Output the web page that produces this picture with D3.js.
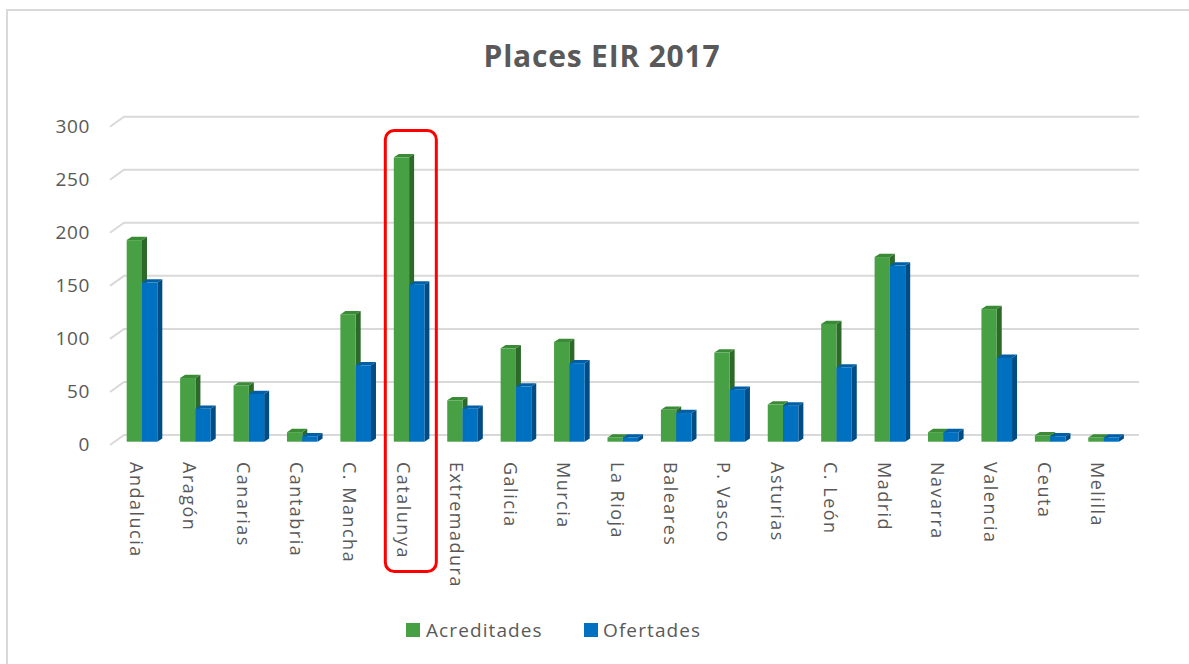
<!DOCTYPE html>
<html>
<head>
<meta charset="utf-8">
<script src="https://cdn.jsdelivr.net/npm/d3@7"></script>
<style>
  body { margin: 0; background: #fff; }
  svg text { font-family: "Open Sans", "DejaVu Sans", sans-serif; fill: #595959; }
</style>
</head>
<body>
<div class="graph"></div>
<script>
/*
    Data
*/
const categories = ["Andalucia", "Aragón", "Canarias", "Cantabria", "C. Mancha", "Catalunya",
    "Extremadura", "Galicia", "Murcia", "La Rioja", "Baleares", "P. Vasco", "Asturias",
    "C. León", "Madrid", "Navarra", "Valencia", "Ceuta", "Melilla"];
const acreditades = [190, 60, 53, 9, 120, 268, 39, 88, 94, 4, 30, 84, 35, 111, 174, 9, 125, 6, 4];
const ofertades = [150, 31, 45, 5, 72, 148, 31, 52, 74, 4, 27, 49, 34, 70, 166, 9, 79, 5, 4];
const y_ticks = [0, 50, 100, 150, 200, 250, 300];
const series_names = ["Acreditades", "Ofertades"];
const highlight = "Catalunya";

/*
    Configuration variables
*/
const svg_dimensions = { width: 1189, height: 664 };
const plot = { left: 110, right: 1125, depth_x: 14, depth_y: 10 };
const bar = { offset: 16.7, width: 15.3, side: 5, top: 3.3 };
const colors = [
    { front: "#47a043", side: "#2d6a2a", top: "#3a8a36" },
    { front: "#0070c0", side: "#004c85", top: "#005fa6" }
];

const container = d3.select(".graph").append("svg")
    .attr("width", svg_dimensions.width)
    .attr("height", svg_dimensions.height);

// chart border
container.append("rect")
    .attr("x", 7).attr("y", 10)
    .attr("width", 1250).attr("height", 700)
    .attr("fill", "none").attr("stroke", "#d9d9d9").attr("stroke-width", 2);

container.append("text")
    .attr("x", 602).attr("y", 55)
    .attr("text-anchor", "middle").attr("dominant-baseline", "central")
    .style("font-size", "30px").style("font-weight", "bold").style("letter-spacing", "0.8px")
    .text("Places EIR 2017");

/* Data scaling */
let xScale = d3.scaleBand()
    .domain(categories)
    .range([plot.left, plot.right]);

// back wall and bar fronts use slightly different scales (pseudo 3d)
let yBack = d3.scaleLinear().domain([0, 300]).range([435, 116.7]);
let yFront = d3.scaleLinear().domain([0, 300]).range([441.7, 123.4]);

/* Gridlines */
let grid = container.append("g");
y_ticks.forEach(t => {
    let yb = yBack(t);
    grid.append("polyline")
        .attr("points", [[plot.left, yb + plot.depth_y], [plot.left + plot.depth_x, yb], [plot.right + plot.depth_x, yb]].join(" "))
        .attr("fill", "none").attr("stroke", "#d9d9d9").attr("stroke-width", 2);
    grid.append("text")
        .attr("x", 90).attr("y", yb + plot.depth_y - 1)
        .attr("text-anchor", "end").attr("dominant-baseline", "central")
        .style("font-size", "19px").style("letter-spacing", "0.6px")
        .text(t);
});

/* Bars */
let bars = container.append("g");
[acreditades, ofertades].forEach((values, s) => {
    categories.forEach((c, i) => {
        let x = xScale(c) + bar.offset + s * bar.width;
        let y0 = yFront(0), y1 = yFront(values[i]);
        let g = bars.append("g");
        g.append("polygon")
            .attr("points", [[x + bar.width, y1], [x + bar.width + bar.side, y1 - bar.top],
                [x + bar.width + bar.side, y0 - bar.top], [x + bar.width, y0]].join(" "))
            .attr("fill", colors[s].side);
        g.append("polygon")
            .attr("points", [[x, y1], [x + bar.width, y1], [x + bar.width + bar.side, y1 - bar.top],
                [x + bar.side, y1 - bar.top]].join(" "))
            .attr("fill", colors[s].top);
        g.append("rect")
            .attr("x", x).attr("y", y1)
            .attr("width", bar.width).attr("height", y0 - y1)
            .attr("fill", colors[s].front);
    });
});

/* Category labels */
let labels = container.append("g");
categories.forEach(c => {
    labels.append("text")
        .attr("transform", `translate(${xScale(c) + xScale.bandwidth() / 2},462) rotate(90)`)
        .attr("dominant-baseline", "central")
        .style("font-size", "18px").style("letter-spacing", "1.5px")
        .text(c);
});

// red highlight box
container.append("rect")
    .attr("x", xScale(highlight) + xScale.bandwidth() / 2 - 18.5).attr("y", 130.5)
    .attr("width", 51).attr("height", 441)
    .attr("rx", 9).attr("ry", 9)
    .attr("fill", "none").attr("stroke", "#ff0000").attr("stroke-width", 3);

/* Legend */
let legend = container.append("g");
[[406, 426], [584, 603]].forEach((pos, s) => {
    legend.append("rect")
        .attr("x", pos[0]).attr("y", 623)
        .attr("width", 14).attr("height", 14)
        .attr("fill", colors[s].front);
    legend.append("text")
        .attr("x", pos[1]).attr("y", 630)
        .attr("dominant-baseline", "central")
        .style("font-size", "19px").style("letter-spacing", "1.1px")
        .text(series_names[s]);
});
</script>
</body>
</html>
